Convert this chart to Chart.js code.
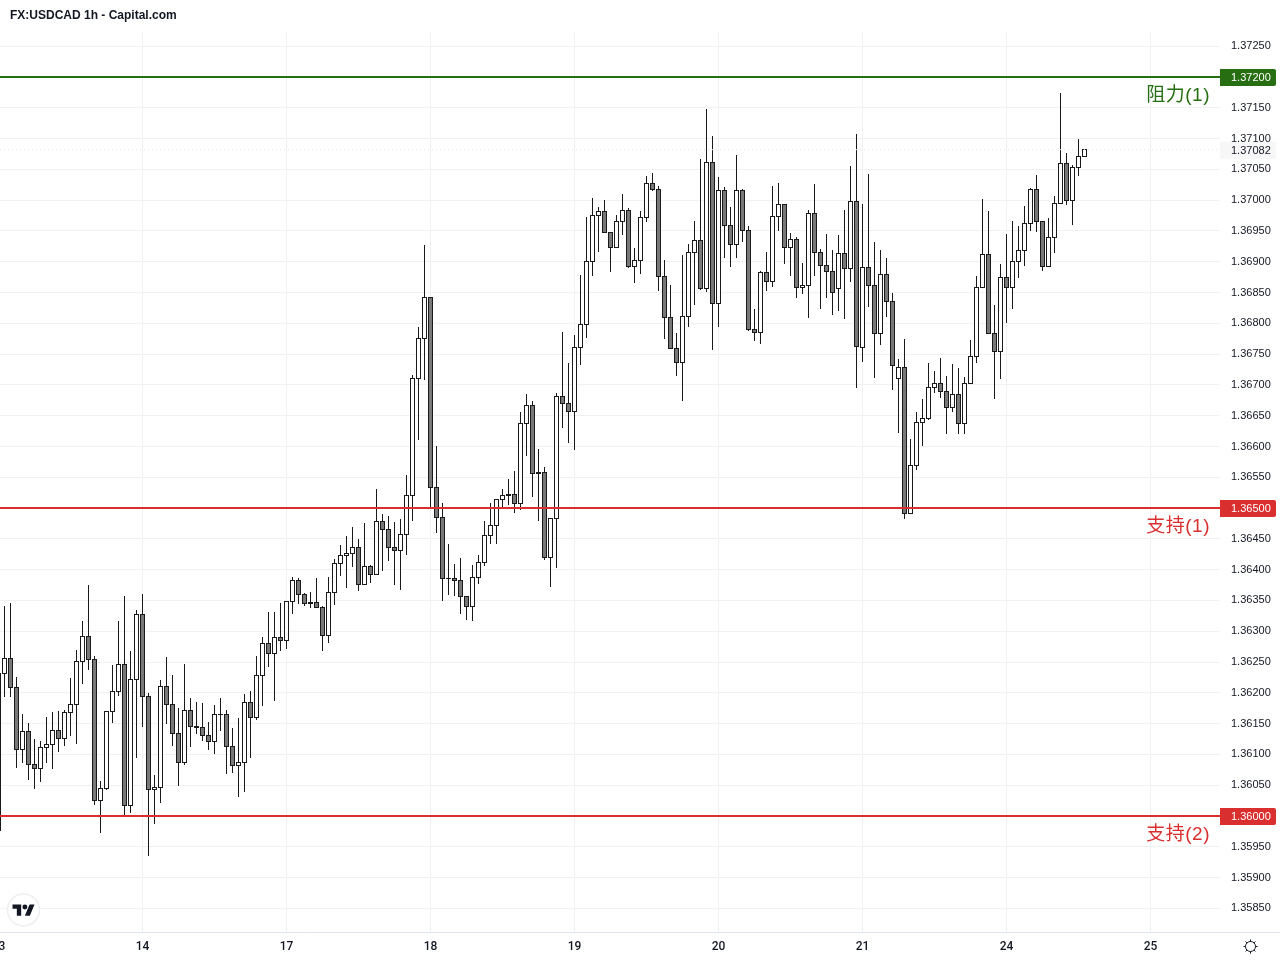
<!DOCTYPE html>
<html>
<head>
<meta charset="utf-8">
<title>FX:USDCAD 1h</title>
<script src="https://cdn.jsdelivr.net/npm/chart.js@4"></script>
<style>
  html, body { margin: 0; background: #fff; }
  #wrap { width: 1280px; height: 960px; }
</style>
</head>
<body>
<div id="wrap"><canvas id="candles"></canvas></div>
<script>
  const chartTitle = 'FX:USDCAD 1h - Capital.com';
  const dayTicks = [0, 24, 48, 72, 96, 120, 144, 168, 192];
  const dayLabels = ['13', '14', '17', '18', '19', '20', '21', '24', '25'];

  const opens = [
    1.36231,1.36231,1.36256,1.36209,1.36108,1.36137,1.36084,1.36077,1.36111,1.36116,
    1.36139,1.36126,1.36168,1.36181,1.36251,1.36291,1.36254,1.36025,1.36045,1.36170,
    1.36202,1.36246,1.36017,1.36222,1.36327,1.36194,1.36043,1.36046,1.36210,1.36181,
    1.36134,1.36087,1.36171,1.36145,1.36144,1.36131,1.36121,1.36165,1.36165,1.36113,
    1.36082,1.36087,1.36184,1.36160,1.36228,1.36280,1.36264,1.36290,1.36285,1.36348,
    1.36382,1.36360,1.36347,1.36347,1.36339,1.36293,1.36363,1.36410,1.36423,1.36426,
    1.36436,1.36376,1.36405,1.36392,1.36478,1.36465,1.36436,1.36431,1.36457,1.36520,
    1.36710,1.36775,1.36842,1.36533,1.36485,1.36386,1.36386,1.36382,1.36356,1.36340,
    1.36387,1.36412,1.36455,1.36472,1.36514,1.36522,1.36522,1.36507,1.36637,1.36667,
    1.36558,1.36558,1.36420,1.36483,1.36681,1.36670,1.36657,1.36761,1.36798,1.36900,
    1.36975,1.36982,1.36947,1.36923,1.36965,1.36983,1.36892,1.36902,1.36972,1.37027,
    1.37017,1.36876,1.36809,1.36759,1.36736,1.36811,1.36915,1.36934,1.36857,1.37061,
    1.36832,1.37016,1.36959,1.36928,1.37016,1.36951,1.36790,1.36785,1.36882,1.36868,
    1.36973,1.36993,1.36923,1.36936,1.36858,1.36861,1.36978,1.36915,1.36894,1.36884,
    1.36857,1.36913,1.36889,1.36998,1.36761,1.36891,1.36861,1.36784,1.36879,1.36835,
    1.36710,1.36728,1.36491,1.36569,1.36639,1.36645,1.36696,1.36702,1.36689,1.36663,
    1.36684,1.36637,1.36702,1.36746,1.36858,1.36912,1.36784,1.36754,1.36874,1.36858,
    1.36900,1.36918,1.36962,1.37017,1.36965,1.36892,1.36939,1.36995,1.37059,1.36999,
    1.37053,1.37071
  ];
  const highs = [
    1.36231,1.36340,1.36345,1.36225,1.36165,1.36150,1.36124,1.36121,1.36160,1.36168,
    1.36170,1.36171,1.36223,1.36269,1.36316,1.36374,1.36259,1.36056,1.36170,1.36244,
    1.36316,1.36356,1.36267,1.36334,1.36360,1.36199,1.36066,1.36220,1.36257,1.36228,
    1.36175,1.36246,1.36191,1.36184,1.36183,1.36152,1.36179,1.36191,1.36171,1.36142,
    1.36158,1.36197,1.36202,1.36259,1.36290,1.36330,1.36330,1.36345,1.36348,1.36387,
    1.36386,1.36361,1.36363,1.36386,1.36340,1.36387,1.36416,1.36439,1.36454,1.36468,
    1.36449,1.36475,1.36407,1.36530,1.36490,1.36486,1.36477,1.36481,1.36553,1.36715,
    1.36793,1.36926,1.36842,1.36600,1.36507,1.36441,1.36408,1.36418,1.36356,1.36407,
    1.36423,1.36478,1.36507,1.36514,1.36530,1.36546,1.36559,1.36655,1.36684,1.36673,
    1.36595,1.36566,1.36483,1.36686,1.36785,1.36735,1.36780,1.36878,1.36972,1.37003,
    1.36988,1.36999,1.36947,1.36975,1.37009,1.36986,1.36921,1.36982,1.37038,1.37043,
    1.37022,1.36902,1.36861,1.36784,1.36910,1.36928,1.36965,1.37066,1.37147,1.37103,
    1.37037,1.37021,1.36988,1.37072,1.37017,1.36957,1.36822,1.36884,1.36915,1.37022,
    1.37027,1.36993,1.36946,1.36939,1.36897,1.36983,1.37025,1.36920,1.36944,1.36918,
    1.36943,1.36983,1.37055,1.37107,1.36993,1.37042,1.36931,1.36918,1.36905,1.36848,
    1.36741,1.36774,1.36611,1.36655,1.36676,1.36735,1.36722,1.36743,1.36714,1.36733,
    1.36727,1.36712,1.36772,1.36876,1.37001,1.36982,1.36829,1.36895,1.36944,1.36965,
    1.36957,1.36990,1.37019,1.37040,1.36965,1.36970,1.37006,1.37173,1.37076,1.37056,
    1.37098,1.37082
  ];
  const lows = [
    1.35976,1.36194,1.36194,1.36079,1.36087,1.36059,1.36045,1.36056,1.36087,1.36077,
    1.36105,1.36114,1.36131,1.36118,1.36215,1.36238,1.36019,1.35973,1.36043,1.36152,
    1.36196,1.35999,1.36006,1.36095,1.36145,1.35936,1.35988,1.36022,1.36150,1.36114,
    1.36049,1.36084,1.36113,1.36134,1.36123,1.36108,1.36101,1.36139,1.36069,1.36071,
    1.36032,1.36040,1.36095,1.36157,1.36179,1.36243,1.36188,1.36269,1.36272,1.36329,
    1.36345,1.36342,1.36339,1.36339,1.36269,1.36282,1.36343,1.36391,1.36371,1.36405,
    1.36366,1.36376,1.36379,1.36392,1.36399,1.36415,1.36376,1.36368,1.36425,1.36480,
    1.36611,1.36709,1.36501,1.36460,1.36350,1.36360,1.36358,1.36329,1.36319,1.36317,
    1.36378,1.36407,1.36442,1.36442,1.36501,1.36506,1.36493,1.36498,1.36585,1.36519,
    1.36480,1.36416,1.36373,1.36403,1.36631,1.36606,1.36595,1.36733,1.36777,1.36878,
    1.36917,1.36947,1.36884,1.36923,1.36944,1.36891,1.36866,1.36881,1.36965,1.37016,
    1.36853,1.36775,1.36759,1.36715,1.36675,1.36795,1.36831,1.36855,1.36852,1.36758,
    1.36795,1.36907,1.36892,1.36907,1.36933,1.36788,1.36772,1.36767,1.36853,1.36860,
    1.36951,1.36897,1.36878,1.36842,1.36848,1.36809,1.36878,1.36824,1.36842,1.36814,
    1.36821,1.36808,1.36868,1.36696,1.36738,1.36827,1.36712,1.36766,1.36811,1.36693,
    1.36623,1.36483,1.36491,1.36563,1.36602,1.36644,1.36688,1.36680,1.36621,1.36657,
    1.36621,1.36621,1.36702,1.36736,1.36858,1.36784,1.36678,1.36710,1.36801,1.36824,
    1.36874,1.36894,1.36951,1.36949,1.36886,1.36892,1.36915,1.36995,1.36993,1.36960,
    1.37040,1.37071
  ];
  const closes = [
    1.35976,1.36256,1.36209,1.36108,1.36137,1.36084,1.36077,1.36111,1.36116,1.36139,
    1.36126,1.36168,1.36181,1.36251,1.36291,1.36254,1.36025,1.36045,1.36170,1.36202,
    1.36246,1.36017,1.36222,1.36327,1.36194,1.36043,1.36046,1.36210,1.36181,1.36134,
    1.36087,1.36171,1.36145,1.36144,1.36131,1.36121,1.36165,1.36165,1.36113,1.36082,
    1.36087,1.36184,1.36160,1.36228,1.36280,1.36264,1.36290,1.36285,1.36348,1.36382,
    1.36360,1.36345,1.36345,1.36339,1.36293,1.36363,1.36410,1.36423,1.36426,1.36436,
    1.36376,1.36405,1.36392,1.36478,1.36465,1.36436,1.36431,1.36457,1.36520,1.36710,
    1.36775,1.36842,1.36533,1.36485,1.36386,1.36386,1.36382,1.36356,1.36340,1.36387,
    1.36412,1.36455,1.36472,1.36514,1.36520,1.36520,1.36507,1.36637,1.36667,1.36556,
    1.36556,1.36420,1.36483,1.36681,1.36670,1.36657,1.36761,1.36798,1.36900,1.36975,
    1.36982,1.36947,1.36923,1.36965,1.36983,1.36892,1.36902,1.36972,1.37027,1.37017,
    1.36876,1.36809,1.36759,1.36736,1.36811,1.36915,1.36934,1.36857,1.37061,1.36832,
    1.37016,1.36959,1.36928,1.37016,1.36951,1.36790,1.36785,1.36882,1.36868,1.36973,
    1.36993,1.36923,1.36936,1.36858,1.36861,1.36978,1.36915,1.36894,1.36884,1.36850,
    1.36913,1.36889,1.36998,1.36762,1.36891,1.36861,1.36784,1.36879,1.36835,1.36732,
    1.36728,1.36491,1.36569,1.36639,1.36645,1.36696,1.36702,1.36689,1.36663,1.36684,
    1.36637,1.36702,1.36746,1.36858,1.36912,1.36784,1.36754,1.36874,1.36858,1.36900,
    1.36918,1.36962,1.37017,1.36965,1.36892,1.36939,1.36995,1.37059,1.36999,1.37053,
    1.37071,1.37082
  ];

  const levelPrices = [1.372, 1.365, 1.36];
  const levelNames = ['阻力(1)', '支持(1)', '支持(2)'];
  const levelColors = ['#276e13', '#d92f2f', '#d92f2f'];
  const lastPrice = 1.37082;

  const ink = '#131722';
  const gridColor = '#f0f1f5';
  const labelFont = '11px "Liberation Sans", sans-serif';
  const xMin = 0.25, xMax = 203.5833;

  // TV logo outline, viewBox 36x28
  const logoPath = new Path2D('M14 22H7V11H0V4h14v18zM28 22h-8l7.5-18h8L28 22z');

  // snap the bars to whole pixels so the candles stay crisp
  const snapBars = {
    id: 'snapBars',
    afterDatasetsUpdate(chart) {
      chart.getSortedVisibleDatasetMetas().forEach(meta => {
        if (meta.type !== 'bar') return;
        meta.data.forEach(bar => {
          const top = Math.floor(Math.min(bar.y, bar.base));
          const bottom = Math.floor(Math.max(bar.y, bar.base)) + 1;
          bar.y = top;
          bar.base = bottom;
        });
      });
    }
  };

  const chip = (ctx, y, fill, color, text) => {
    ctx.fillStyle = fill;
    ctx.beginPath();
    ctx.roundRect(1220, Math.round(y) - 8, 56, 17, [0, 2, 2, 0]);
    ctx.fill();
    ctx.fillStyle = color;
    ctx.font = labelFont;
    ctx.textAlign = 'left';
    ctx.textBaseline = 'middle';
    ctx.fillText(text, 1231, Math.round(y) + 1);
  };

  const overlays = {
    id: 'overlays',
    afterDraw(chart) {
      const ctx = chart.ctx, yScale = chart.scales.y;
      ctx.save();

      ctx.fillStyle = ink;
      ctx.font = 'bold 12px "Liberation Sans", sans-serif';
      ctx.textAlign = 'left';
      ctx.textBaseline = 'middle';
      ctx.fillText(chartTitle, 10, 16);

      ctx.fillStyle = '#e0e3eb';
      ctx.fillRect(1221, 932, 59, 1);

      chip(ctx, yScale.getPixelForValue(lastPrice), '#f7f7f8', ink, lastPrice.toFixed(5));

      levelPrices.forEach((p, i) => {
        const y = yScale.getPixelForValue(p);
        chip(ctx, y, levelColors[i], '#fff', p.toFixed(5));
        ctx.fillStyle = levelColors[i];
        ctx.font = '19px "Liberation Sans", "Noto Sans CJK SC", sans-serif';
        ctx.letterSpacing = '0.5px';
        ctx.textAlign = 'right';
        ctx.textBaseline = 'middle';
        ctx.fillText(levelNames[i], 1210, y + 19);
        ctx.letterSpacing = '0px';
      });

      // logo badge
      ctx.beginPath();
      ctx.arc(23.5, 910, 16, 0, Math.PI * 2);
      ctx.fillStyle = '#fff';
      ctx.fill();
      ctx.strokeStyle = '#eceef2';
      ctx.lineWidth = 1.5;
      ctx.stroke();
      ctx.save();
      ctx.translate(12.5, 902);
      ctx.scale(0.62, 0.62);
      ctx.fillStyle = ink;
      ctx.fill(logoPath);
      ctx.beginPath();
      ctx.arc(20, 8, 4, 0, Math.PI * 2);
      ctx.fill();
      ctx.restore();

      // settings gear
      ctx.strokeStyle = ink;
      ctx.lineWidth = 1;
      ctx.beginPath();
      ctx.arc(1250.5, 946.5, 5, 0, Math.PI * 2);
      ctx.stroke();
      for (let a = 0; a < 8; a++) {
        const t = a * Math.PI / 4;
        ctx.beginPath();
        ctx.moveTo(1250.5 + Math.cos(t) * 5, 946.5 + Math.sin(t) * 5);
        ctx.lineTo(1250.5 + Math.cos(t) * 7, 946.5 + Math.sin(t) * 7);
        ctx.stroke();
      }
      ctx.restore();
    }
  };

  const levelSets = levelPrices.map((p, i) => ({
    type: 'line',
    order: 0,
    data: [{ x: xMin, y: p }, { x: xMax, y: p }],
    borderColor: levelColors[i],
    borderWidth: 2,
    pointRadius: 0
  }));

  new Chart(document.getElementById('candles'), {
    type: 'bar',
    data: {
      datasets: [
        ...levelSets,
        {
          type: 'line',
          order: 1,
          data: [{ x: xMin, y: lastPrice }, { x: xMax, y: lastPrice }],
          borderColor: '#e4e6ec',
          borderWidth: 1,
          borderDash: [1, 3],
          pointRadius: 0
        },
        {
          order: 2,
          grouped: false,
          barThickness: 5,
          inflateAmount: 0,
          data: opens.map((o, i) => ({ x: i, y: [o, closes[i]] })),
          backgroundColor: opens.map((o, i) => closes[i] >= o ? '#ffffff' : '#787878'),
          borderColor: '#1a1a1a',
          borderWidth: 1,
          borderSkipped: false
        },
        {
          order: 3,
          grouped: false,
          barThickness: 1,
          inflateAmount: 0,
          data: lows.map((l, i) => ({ x: i, y: [l, highs[i]] })),
          backgroundColor: '#1a1a1a',
          borderWidth: 0
        }
      ]
    },
    options: {
      responsive: true,
      maintainAspectRatio: false,
      animation: false,
      events: [],
      layout: { padding: { top: 32 } },
      plugins: { legend: { display: false }, tooltip: { enabled: false } },
      scales: {
        x: {
          type: 'linear',
          offset: false,
          min: xMin,
          max: xMax,
          afterBuildTicks: s => { s.ticks = dayTicks.map(v => ({ value: v })); },
          afterFit: s => { s.height = 28; s.paddingLeft = 0; s.paddingRight = 0; },
          grid: { color: gridColor, offset: false, drawTicks: false },
          border: { color: '#e0e3eb' },
          ticks: {
            autoSkip: false,
            maxRotation: 0,
            padding: 8,
            color: ink,
            font: { family: 'Roboto, sans-serif', size: 12, weight: '500' },
            callback: v => dayLabels[dayTicks.indexOf(v)]
          }
        },
        y: {
          position: 'right',
          min: 1.3581160,
          max: 1.3727307,
          afterFit: s => { s.width = 60; s.paddingTop = 0; s.paddingBottom = 0; },
          grid: { color: gridColor, drawTicks: false },
          border: { display: false },
          ticks: {
            stepSize: 0.0005,
            includeBounds: false,
            autoSkip: false,
            padding: 11,
            color: ink,
            font: { family: '"Liberation Sans", sans-serif', size: 11 },
            callback: v => v.toFixed(5)
          }
        }
      }
    },
    plugins: [snapBars, overlays]
  });
</script>
</body>
</html>
